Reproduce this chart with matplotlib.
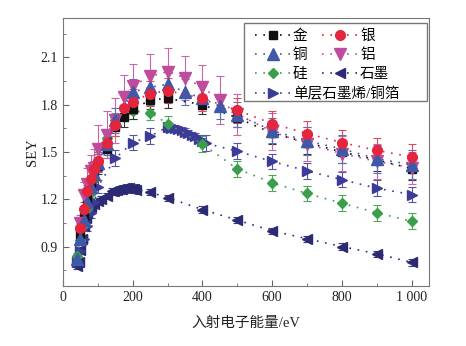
"""SEY versus primary electron energy for several materials."""
import matplotlib
matplotlib.use("Agg")
import matplotlib.pyplot as plt
from matplotlib.lines import Line2D
from matplotlib.patches import Rectangle
from matplotlib.ticker import FuncFormatter, MultipleLocator

plt.rcParams["font.family"] = ["Liberation Serif", "Noto Sans CJK SC"]

# 金 (gold)
GOLD_E = [50, 60, 70, 80, 90, 100, 125, 150, 175, 200, 250, 300, 400, 500, 600, 700, 800, 900, 1000]
GOLD_SEY = [0.98, 1.09, 1.20, 1.30, 1.36, 1.41, 1.52, 1.66, 1.72, 1.77, 1.83, 1.84, 1.80, 1.716, 1.62, 1.56, 1.50, 1.45, 1.395]
GOLD_ERR = [0.03, 0.03, 0.04, 0.04, 0.05, 0.05, 0.06, 0.06, 0.06, 0.06, 0.06, 0.06, 0.06, 0.06, 0.07, 0.07, 0.07, 0.07, 0.07]

# 银 (silver)
SILVER_E = [50, 60, 70, 80, 90, 100, 125, 150, 175, 200, 250, 300, 400, 500, 600, 700, 800, 900, 1000]
SILVER_SEY = [1.02, 1.14, 1.25, 1.33, 1.39, 1.44, 1.56, 1.67, 1.78, 1.82, 1.87, 1.89, 1.84, 1.765, 1.68, 1.617, 1.56, 1.51, 1.469]
SILVER_ERR = [0.03, 0.04, 0.04, 0.05, 0.05, 0.06, 0.06, 0.07, 0.08, 0.08, 0.08, 0.08, 0.08, 0.08, 0.08, 0.08, 0.08, 0.08, 0.08]

# 铜 (copper)
COPPER_E = [40, 50, 60, 70, 80, 90, 100, 125, 150, 200, 250, 300, 350, 400, 450, 500, 600, 700, 800, 900, 1000]
COPPER_SEY = [0.82, 0.95, 1.07, 1.18, 1.28, 1.36, 1.43, 1.55, 1.70, 1.88, 1.91, 1.93, 1.88, 1.84, 1.79, 1.737, 1.636, 1.57, 1.52, 1.457, 1.42]
COPPER_ERR = [0.03, 0.03, 0.04, 0.05, 0.05, 0.06, 0.06, 0.07, 0.08, 0.08, 0.08, 0.08, 0.08, 0.08, 0.08, 0.08, 0.08, 0.09, 0.09, 0.09, 0.09]

# 铝 (aluminium)
ALU_E = [50, 60, 70, 80, 90, 100, 125, 150, 175, 200, 250, 300, 350, 400, 450, 500, 600, 700, 800, 900, 1000]
ALU_SEY = [1.05, 1.23, 1.30, 1.38, 1.40, 1.52, 1.61, 1.70, 1.85, 1.92, 1.98, 2.01, 1.97, 1.91, 1.83, 1.74, 1.63, 1.55, 1.49, 1.44, 1.40]
ALU_ERR = [0.05, 0.08, 0.10, 0.10, 0.12, 0.15, 0.15, 0.14, 0.14, 0.14, 0.14, 0.15, 0.14, 0.14, 0.15, 0.13, 0.12, 0.11, 0.11, 0.11, 0.10]

# 硅 (silicon)
SI_E = [40, 50, 60, 70, 80, 90, 100, 125, 150, 200, 250, 300, 400, 500, 600, 700, 800, 900, 1000]
SI_SEY = [0.84, 0.94, 1.04, 1.14, 1.24, 1.33, 1.45, 1.59, 1.70, 1.76, 1.75, 1.68, 1.55, 1.393, 1.305, 1.237, 1.175, 1.115, 1.06]
SI_ERR = [0.02, 0.02, 0.03, 0.03, 0.03, 0.03, 0.04, 0.04, 0.05, 0.05, 0.05, 0.05, 0.05, 0.05, 0.05, 0.05, 0.05, 0.05, 0.05]

# 石墨 (graphite)
GRAPHITE_E = [40, 45, 50, 55, 60, 65, 70, 80, 90, 100, 110, 125,
              140, 145, 150, 155, 160, 165, 170, 175, 180, 185, 190, 195, 200, 205, 210,
              250, 300, 400, 500, 600, 700, 800, 900, 1000]
GRAPHITE_SEY = [0.78, 0.80, 0.88, 0.95, 1.03, 1.08, 1.11, 1.15, 1.17, 1.19, 1.20, 1.22,
                1.25, 1.255, 1.26, 1.262, 1.265, 1.267, 1.268, 1.27, 1.27, 1.27, 1.27, 1.268, 1.267, 1.265, 1.262,
                1.245, 1.21, 1.135, 1.068, 1.00, 0.95, 0.90, 0.855, 0.80]
GRAPHITE_ERR = [0.02, 0.02, 0.02, 0.02, 0.02, 0.02, 0.02, 0.02, 0.02, 0.02, 0.02, 0.02,
                0.02, 0.01, 0.01, 0.01, 0.01, 0.01, 0.01, 0.01, 0.01, 0.01, 0.01, 0.01, 0.01, 0.01, 0.02,
                0.02, 0.02, 0.02, 0.02, 0.02, 0.02, 0.02, 0.02, 0.02]

# 单层石墨烯/铜箔 (graphene on copper foil)
GRAPHENE_E = [40, 50, 60, 70, 80, 90, 100, 150, 200, 250,
              300, 310, 320, 330, 340, 350, 360, 370, 380, 390, 400, 410,
              500, 600, 700, 800, 900, 1000]
GRAPHENE_SEY = [0.80, 0.87, 0.95, 1.03, 1.11, 1.18, 1.28, 1.46, 1.56, 1.60,
                1.66, 1.655, 1.65, 1.645, 1.64, 1.63, 1.62, 1.61, 1.60, 1.585, 1.57, 1.555,
                1.505, 1.44, 1.38, 1.325, 1.27, 1.23]
GRAPHENE_ERR = [0.02, 0.02, 0.02, 0.03, 0.03, 0.03, 0.04, 0.05, 0.05, 0.05,
                0.03, 0.02, 0.02, 0.02, 0.02, 0.02, 0.02, 0.02, 0.02, 0.02, 0.02, 0.05,
                0.05, 0.05, 0.05, 0.05, 0.05, 0.05]

DOTS = (0, (1.0, 4.0))

# (name, energies, sey, err, marker, size, color, error colour)
SERIES = [
    ("石墨", GRAPHITE_E, GRAPHITE_SEY, GRAPHITE_ERR, "<", 7, "#2b2a72", "#3b3a86"),
    ("单层石墨烯/铜箔", GRAPHENE_E, GRAPHENE_SEY, GRAPHENE_ERR, ">", 7, "#3d3a98", "#5554a8"),
    ("硅", SI_E, SI_SEY, SI_ERR, "D", 5.5, "#3a9e4a", "#4aa85a"),
    ("金", GOLD_E, GOLD_SEY, GOLD_ERR, "s", 5.5, "#111111", "#333333"),
    ("铝", ALU_E, ALU_SEY, ALU_ERR, "v", 8, "#c04a9b", "#c866aa"),
    ("铜", COPPER_E, COPPER_SEY, COPPER_ERR, "^", 8, "#3e59a8", "#5a70b6"),
    ("银", SILVER_E, SILVER_SEY, SILVER_ERR, "o", 7, "#e3253e", "#e44a5e"),
]


def proxy(name: str) -> Line2D:
    """Legend handle without error bars."""
    for label, _, _, _, marker, size, color, _ in SERIES:
        if label == name:
            return Line2D([], [], ls=DOTS, lw=1.2, color=color, marker=marker, ms=size)
    raise KeyError(name)


fig = plt.figure(figsize=(4.66, 3.46), dpi=100)
ax = fig.add_axes([0.1352, 0.1734, 0.7854, 0.7746])

for label, energy, sey, err, marker, size, color, ecolor in SERIES:
    ax.errorbar(energy, sey, yerr=err, fmt=marker, ls=DOTS, lw=1.2, color=color, ecolor=ecolor,
                ms=size, mec=color, capsize=3, elinewidth=0.8, capthick=0.8)

ax.set_xlim(0, 1050)
ax.set_ylim(0.65, 2.35)
ax.xaxis.set_major_locator(MultipleLocator(200))
ax.xaxis.set_minor_locator(MultipleLocator(100))
ax.yaxis.set_major_locator(MultipleLocator(0.3))
ax.yaxis.set_minor_locator(MultipleLocator(0.15))
ax.xaxis.set_major_formatter(FuncFormatter(lambda v, _: f"{v:,.0f}".replace(",", " ")))
ax.yaxis.set_major_formatter(FuncFormatter(lambda v, _: f"{v:.1f}"))
ax.tick_params(which="both", direction="in", colors="#666666", labelcolor="#222222", labelsize=10)
ax.tick_params(which="major", length=4)
ax.tick_params(which="minor", length=2)
for spine in ax.spines.values():
    spine.set_color("#777777")
ax.set_xlabel("入射电子能量/eV", fontsize=10.5, color="#222222", labelpad=9)
ax.set_ylabel("SEY", fontsize=10.5, color="#222222", labelpad=1)

# legend frame drawn by hand so the long last entry can span both columns
ax.add_patch(Rectangle((0.4945, 0.690), 0.50, 0.290, transform=ax.transAxes, fill=True,
                       facecolor="white", edgecolor="#777777", lw=1, zorder=5))
top = ax.legend([proxy(n) for n in ["金", "铜", "硅", "银", "铝", "石墨"]],
                ["金", "铜", "硅", "银", "铝", "石墨"], ncol=2, loc="center left",
                bbox_to_anchor=(0.5246, 0.862), frameon=False, fontsize=10.5, borderpad=0,
                borderaxespad=0, handlelength=2.4, handletextpad=0.2, columnspacing=1.0,
                labelspacing=0.4)
top.set_zorder(6)
ax.add_artist(top)
bottom = ax.legend([proxy("单层石墨烯/铜箔")], ["单层石墨烯/铜箔"], loc="center left",
                   bbox_to_anchor=(0.5246, 0.715), frameon=False, fontsize=10.5, borderpad=0,
                   borderaxespad=0, handlelength=2.4, handletextpad=0.2)
bottom.set_zorder(6)

fig.savefig("out.png", dpi=100)
